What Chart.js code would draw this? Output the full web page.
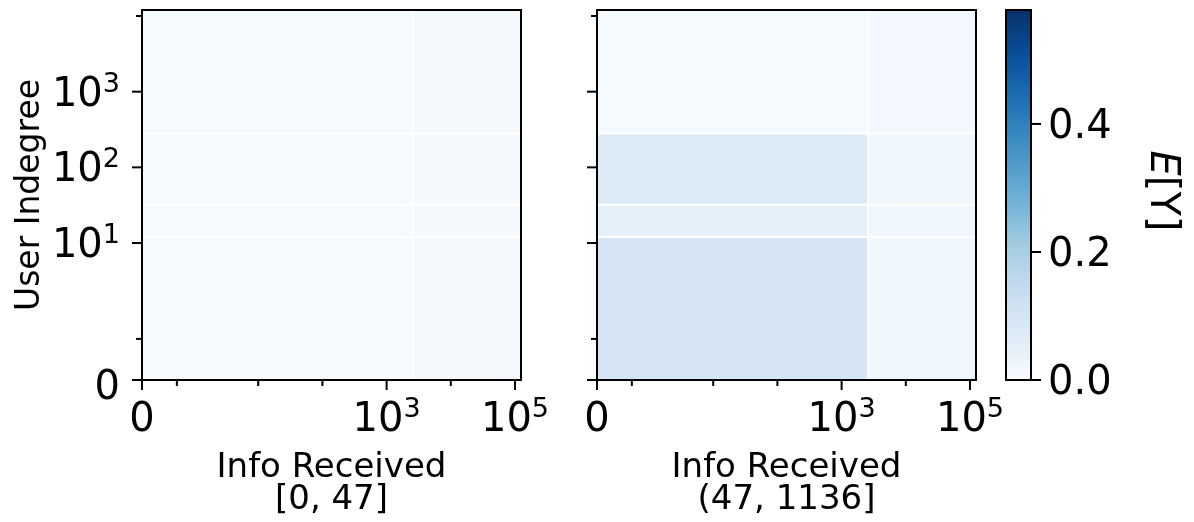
<!DOCTYPE html>
<html>
<head>
<meta charset="utf-8">
<title>E[Y] by info received and user indegree</title>
<script src="https://cdn.jsdelivr.net/npm/chart.js@4.4.1/dist/chart.umd.min.js"></script>
<style>
    html, body { margin: 0; padding: 0; background: #fff; }
    #wrap { position: relative; width: 1194px; height: 522px; }
    #wrap canvas { position: absolute; left: 0; top: 0; }
</style>
</head>
<body>
<div id="wrap">
    <canvas id="lowInfoChart" width="1194" height="522"></canvas>
    <canvas id="highInfoChart" width="1194" height="522"></canvas>
    <canvas id="colorbarChart" width="1194" height="522"></canvas>
</div>
<script>
// bin edges (symlog axes)
const infoEdges = [0, 2600, 124000];
const indegEdges = [0, 12, 32, 280, 12000];

// axis ticks, '' = unlabeled minor tick
const infoTicks = [0, 3, 10, 100, 1000, 10000, 100000];
const infoTickLabels = ['0', '', '', '', '10^3', '', '10^5'];
const indegTicks = [0, 3, 10, 100, 1000, 10000];
const indegTickLabels = ['0', '', '10^1', '10^2', '10^3', ''];

const panelBins = ['[0, 47]', '(47, 1136]'];

// E[Y] per cell: one row per indegree bin (bottom to top), one column per info bin
const lowInfoRow0 = [0.006, 0.008];
const lowInfoRow1 = [0.006, 0.008];
const lowInfoRow2 = [0.006, 0.008];
const lowInfoRow3 = [0.006, 0.008];
const highInfoRow0 = [0.099, 0.024];
const highInfoRow1 = [0.049, 0.022];
const highInfoRow2 = [0.078, 0.022];
const highInfoRow3 = [0.006, 0.015];

// colorbar
const cbTicks = [0, 0.2, 0.4];
const cbTickLabels = ['0.0', '0.2', '0.4'];
const cbMax = 0.578;

// matplotlib "Blues"
const bluesStops = ['#f7fbff', '#deebf7', '#c6dbef', '#9ecae1', '#6baed6', '#4292c6', '#2171b5', '#08519c', '#08306b'];

const FONT = '"DejaVu Sans", sans-serif';

function hexRgb(h) {
    return [parseInt(h.slice(1, 3), 16), parseInt(h.slice(3, 5), 16), parseInt(h.slice(5, 7), 16)];
}

function bluesColor(f) {
    f = Math.max(0, Math.min(1, f));
    const pos = f * (bluesStops.length - 1);
    const i = Math.min(Math.floor(pos), bluesStops.length - 2);
    const k = pos - i;
    const a = hexRgb(bluesStops[i]), b = hexRgb(bluesStops[i + 1]);
    const c = a.map((v, j) => Math.round(v + (b[j] - v) * k));
    return `rgb(${c[0]}, ${c[1]}, ${c[2]})`;
}

// symlog: linear on [0, 10], log above
const LIN = 10, LINSPAN = 1.81;
function symT(v) { return v <= LIN ? v / LIN * LINSPAN : LINSPAN + Math.log10(v / LIN); }
function symInv(t) { return t <= LINSPAN ? t / LINSPAN * LIN : LIN * Math.pow(10, t - LINSPAN); }

class SymlogScale extends Chart.LinearScale {
    determineDataLimits() {
        this.min = this.options.min;
        this.max = this.options.max;
    }
    buildTicks() {
        return (this.options.tickValues || []).map(v => ({ value: v }));
    }
    getPixelForValue(value) {
        const lo = symT(this.min), hi = symT(this.max);
        return this.getPixelForDecimal((symT(value) - lo) / (hi - lo));
    }
    getValueForPixel(pixel) {
        const lo = symT(this.min), hi = symT(this.max);
        return symInv(lo + this.getDecimalForPixel(pixel) * (hi - lo));
    }
}
SymlogScale.id = 'symlog';
SymlogScale.defaults = {};
Chart.register(SymlogScale);

function buildCells(rows) {
    const cells = [];
    rows.forEach((row, r) => {
        row.forEach((v, c) => {
            cells.push({ x: infoEdges[c], y: indegEdges[r], x1: infoEdges[c + 1], y1: indegEdges[r + 1], v: v });
        });
    });
    return cells;
}

function line(ctx, x0, y0, x1, y1) {
    ctx.beginPath();
    ctx.moveTo(x0, y0);
    ctx.lineTo(x1, y1);
    ctx.stroke();
}

// draws "10^3" style labels with a raised exponent
function drawPower(ctx, label, x, baseline, align) {
    const parts = label.split('^');
    ctx.font = `40px ${FONT}`;
    const wb = ctx.measureText(parts[0]).width;
    let we = 0;
    if (parts[1]) {
        ctx.font = `27px ${FONT}`;
        we = ctx.measureText(parts[1]).width;
    }
    const total = wb + we;
    let start = x;
    if (align === 'center') start = x - total / 2;
    if (align === 'right') start = x - total;
    ctx.textAlign = 'left';
    ctx.textBaseline = 'alphabetic';
    ctx.fillStyle = '#000';
    ctx.font = `40px ${FONT}`;
    ctx.fillText(parts[0], start, baseline);
    if (parts[1]) {
        ctx.font = `27px ${FONT}`;
        ctx.fillText(parts[1], start + wb, baseline - 14);
    }
}

const heatmapPlugin = {
    id: 'heatmap',
    beforeDatasetsDraw(chart) {
        const { ctx, chartArea: a, scales: { x, y } } = chart;
        ctx.save();
        chart.data.datasets[0].data.forEach(c => {
            const l = x.getPixelForValue(c.x), r = x.getPixelForValue(c.x1);
            const t = y.getPixelForValue(c.y1), b = y.getPixelForValue(c.y);
            ctx.fillStyle = bluesColor(c.v / cbMax);
            ctx.fillRect(l, t, r - l, b - t);
        });
        // white cell borders
        ctx.strokeStyle = '#ffffff';
        ctx.lineWidth = 2;
        infoEdges.slice(1, -1).forEach(v => {
            const px = x.getPixelForValue(v);
            line(ctx, px, a.top, px, a.bottom);
        });
        indegEdges.slice(1, -1).forEach(v => {
            const py = y.getPixelForValue(v);
            line(ctx, a.left, py, a.right, py);
        });
        ctx.restore();
    },
    afterDraw(chart, args, opts) {
        const { ctx, chartArea: a, scales: { x, y } } = chart;
        ctx.save();
        ctx.strokeStyle = '#000';
        ctx.lineWidth = 2;
        ctx.strokeRect(a.left, a.top, a.right - a.left, a.bottom - a.top);

        infoTicks.forEach((v, i) => {
            const px = x.getPixelForValue(v);
            const lab = infoTickLabels[i];
            line(ctx, px, a.bottom, px, a.bottom + (lab ? 10 : 6));
            if (lab) drawPower(ctx, lab, px, 431, 'center');
        });
        indegTicks.forEach((v, i) => {
            const py = y.getPixelForValue(v);
            const lab = indegTickLabels[i];
            line(ctx, a.left, py, a.left - (lab ? 10 : 6), py);
            if (lab && opts.yLabels) drawPower(ctx, lab, 120, py + (lab.includes('^') ? 14 : 19), 'right');
        });

        const cx = (a.left + a.right) / 2;
        ctx.fillStyle = '#000';
        ctx.textAlign = 'center';
        ctx.textBaseline = 'alphabetic';
        ctx.font = `34px ${FONT}`;
        ctx.fillText('Info Received', cx, 477);
        ctx.fillText(opts.bin, cx, 509);

        if (opts.yLabels) {
            ctx.save();
            ctx.translate(39, (a.top + a.bottom) / 2);
            ctx.rotate(-Math.PI / 2);
            ctx.font = `33px ${FONT}`;
            ctx.fillText('User Indegree', 0, 0);
            ctx.restore();
        }
        ctx.restore();
    }
};

function makePanel(id, rows, padding, bin, yLabels) {
    return new Chart(document.getElementById(id), {
        type: 'scatter',
        data: {
            datasets: [{
                data: buildCells(rows),
                pointRadius: 0,
                pointHoverRadius: 0
            }]
        },
        options: {
            responsive: false,
            animation: false,
            layout: { padding: padding },
            plugins: {
                legend: { display: false },
                tooltip: { enabled: false },
                heatmap: { bin: bin, yLabels: yLabels }
            },
            scales: {
                x: { type: 'symlog', display: false, min: 0, max: infoEdges[infoEdges.length - 1], tickValues: infoTicks },
                y: { type: 'symlog', display: false, min: 0, max: indegEdges[indegEdges.length - 1], tickValues: indegTicks }
            }
        },
        plugins: [heatmapPlugin]
    });
}

makePanel('lowInfoChart', [lowInfoRow0, lowInfoRow1, lowInfoRow2, lowInfoRow3],
    { left: 142, right: 1194 - 521, top: 10, bottom: 142 }, panelBins[0], true);
makePanel('highInfoChart', [highInfoRow0, highInfoRow1, highInfoRow2, highInfoRow3],
    { left: 597, right: 1194 - 976, top: 10, bottom: 142 }, panelBins[1], false);

// colorbar
const colorbarPlugin = {
    id: 'colorbar',
    beforeDatasetsDraw(chart) {
        const { ctx, chartArea: a, scales: { y } } = chart;
        const g = ctx.createLinearGradient(0, y.getPixelForValue(0), 0, y.getPixelForValue(cbMax));
        bluesStops.forEach((c, i) => g.addColorStop(i / (bluesStops.length - 1), c));
        ctx.save();
        ctx.fillStyle = g;
        ctx.fillRect(a.left, a.top, a.right - a.left, a.bottom - a.top);
        ctx.restore();
    },
    afterDraw(chart) {
        const { ctx, chartArea: a, scales: { y } } = chart;
        ctx.save();
        ctx.strokeStyle = '#000';
        ctx.lineWidth = 2;
        ctx.strokeRect(a.left, a.top, a.right - a.left, a.bottom - a.top);
        ctx.fillStyle = '#000';
        ctx.font = `40px ${FONT}`;
        ctx.textAlign = 'left';
        ctx.textBaseline = 'alphabetic';
        cbTicks.forEach((v, i) => {
            const py = y.getPixelForValue(v);
            line(ctx, a.right, py, a.right + 10, py);
            ctx.fillText(cbTickLabels[i], 1048, py + 14);
        });

        // E[Y] label, rotated clockwise
        ctx.font = `italic 40px ${FONT}`;
        const wE = ctx.measureText('E').width;
        ctx.font = `40px ${FONT}`;
        const wR = ctx.measureText('[Y]').width;
        ctx.translate(1151, 191);
        ctx.rotate(Math.PI / 2);
        const s = -(wE + wR) / 2;
        ctx.font = `italic 40px ${FONT}`;
        ctx.fillText('E', s, 0);
        ctx.font = `40px ${FONT}`;
        ctx.fillText('[Y]', s + wE, 0);
        ctx.restore();
    }
};

new Chart(document.getElementById('colorbarChart'), {
    type: 'scatter',
    data: { datasets: [{ data: [], pointRadius: 0 }] },
    options: {
        responsive: false,
        animation: false,
        layout: { padding: { left: 1006, right: 1194 - 1031, top: 10, bottom: 142 } },
        plugins: { legend: { display: false }, tooltip: { enabled: false } },
        scales: {
            x: { type: 'linear', display: false, min: 0, max: 1 },
            y: { type: 'linear', display: false, min: 0, max: cbMax }
        }
    },
    plugins: [colorbarPlugin]
});
</script>
</body>
</html>
